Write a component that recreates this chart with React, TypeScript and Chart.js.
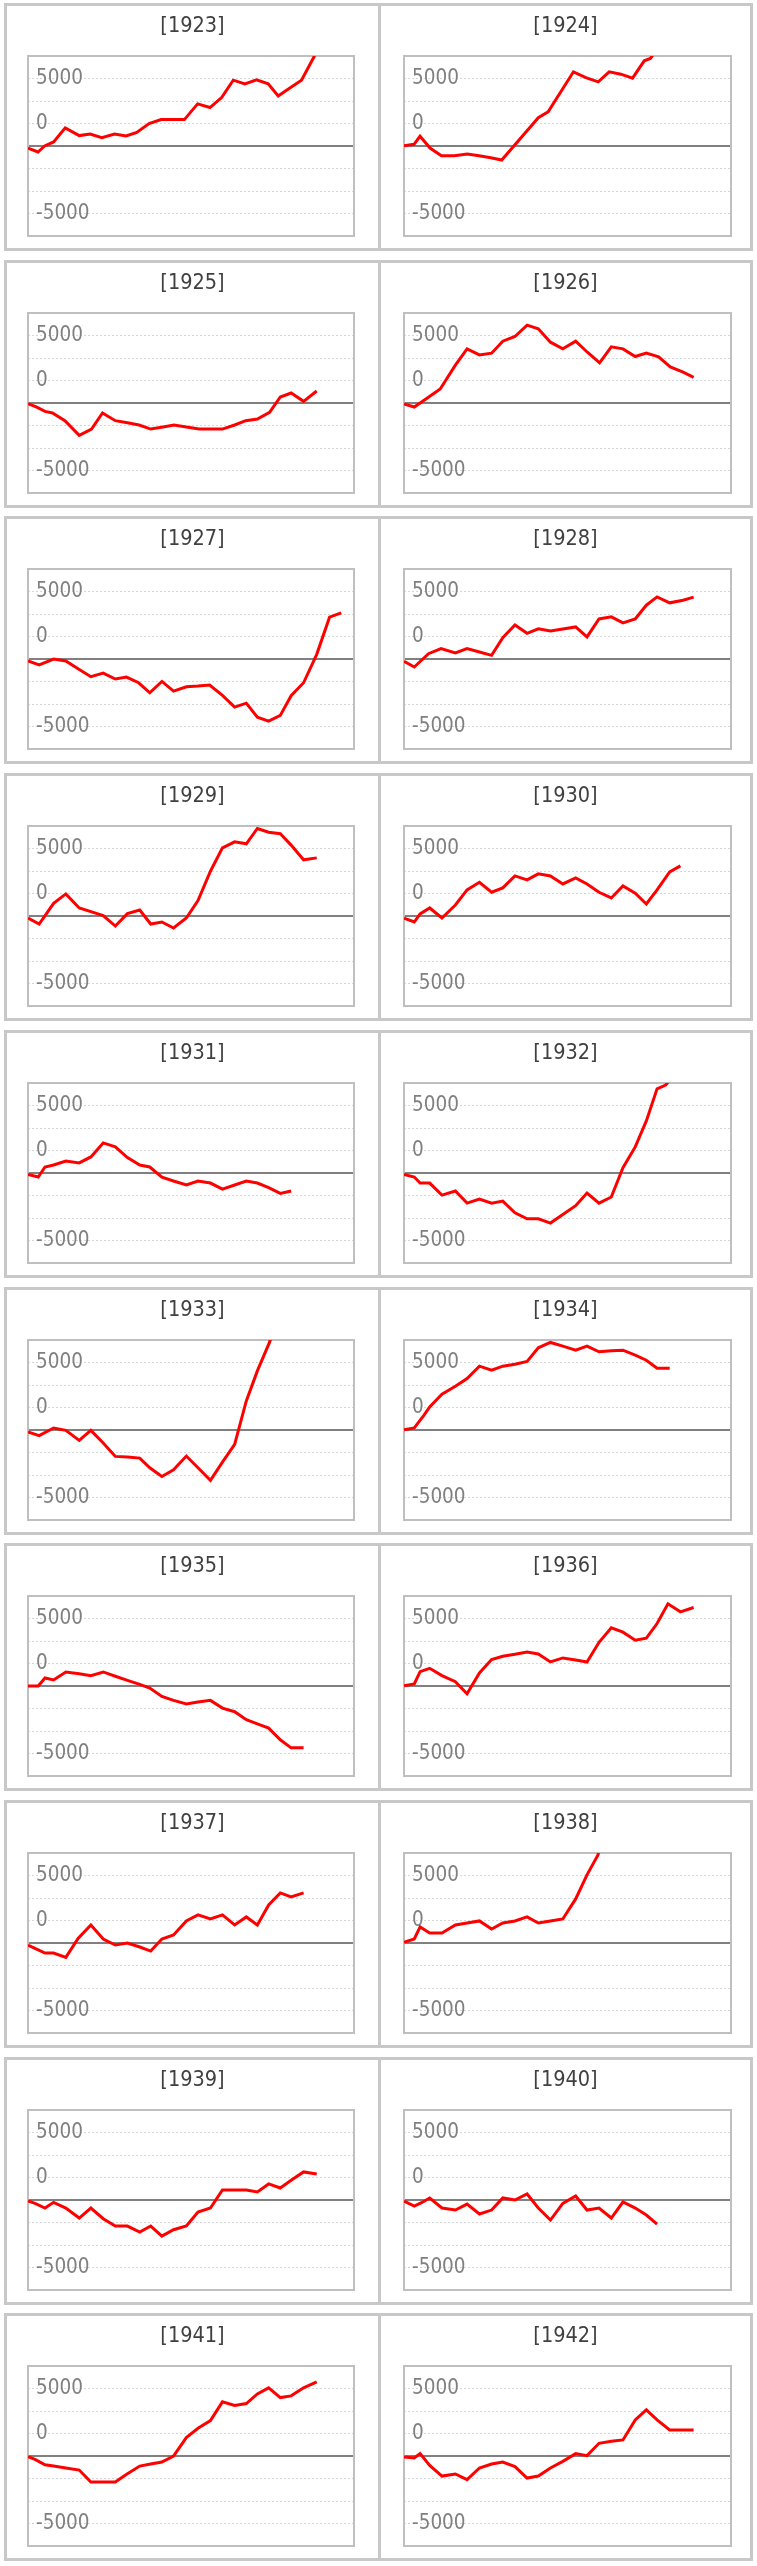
import { useEffect, useRef } from "react"
import { Chart, registerables } from "chart.js"

Chart.register(...registerables)

type Pt = [number, number]

// y axis: ticks every 5000/3, only three of them carry a label (as in the source chart)
const TICK_VALUES = [-20000 / 3, -5000, -10000 / 3, -5000 / 3, 0, 5000 / 3, 10000 / 3, 5000, 20000 / 3]
const TICK_LABELS = ["", "-5000", "", "", "", "0", "", "5000", ""]
const Y_MIN = -20000 / 3
const Y_MAX = 20000 / 3
const X_MAX = 28

const YEARS = [1923, 1924, 1925, 1926, 1927, 1928, 1929, 1930, 1931, 1932, 1933, 1934, 1935, 1936, 1937, 1938, 1939, 1940, 1941, 1942]

// [position in year, value]
const P1923: Pt[] = [[0, -150], [0.86, -445], [1.43, 0], [2.2, 300], [3.2, 1340], [4.4, 770], [5.34, 890], [6.34, 620], [7.43, 890], [8.43, 740], [9.34, 1010], [10.4, 1660], [11.43, 1955], [12.5, 1955], [13.43, 1955], [14.57, 3120], [15.63, 2850], [16.63, 3590], [17.63, 4875], [18.63, 4600], [19.63, 4900], [20.63, 4600], [21.49, 3710], [22.49, 4300], [23.49, 4875], [24.49, 6485], [25.49, 8100]]
const P1924: Pt[] = [[0, 25], [0.86, 125], [1.37, 720], [2.23, -150], [3.2, -720], [4.3, -720], [5.43, -595], [6.43, -720], [7.43, -865], [8.37, -1040], [11.5, 2100], [12.34, 2525], [14.51, 5495], [15.57, 5070], [16.63, 4750], [17.57, 5495], [18.57, 5320], [19.57, 5025], [20.57, 6310], [21.1, 6485], [21.6, 7100]]
const P1925: Pt[] = [[0, -50], [0.75, -300], [1.46, -620], [2.1, -740], [3.17, -1310], [4.4, -2400], [5.46, -1930], [6.4, -740], [7.5, -1310], [8.54, -1460], [9.54, -1630], [10.54, -1930], [11.6, -1780], [12.54, -1630], [13.6, -1780], [14.7, -1930], [15.75, -1930], [16.7, -1930], [17.75, -1630], [18.7, -1310], [19.7, -1190], [20.75, -690], [21.67, 445], [22.6, 740], [23.67, 125], [24.8, 890]]
const P1926: Pt[] = [[0, -75], [0.88, -300], [2.0, 370], [3.1, 1040], [4.4, 2800], [5.4, 4010], [6.46, 3560], [7.5, 3690], [8.46, 4580], [9.5, 4925], [10.54, 5770], [11.5, 5495], [12.54, 4505], [13.6, 4010], [14.7, 4580], [15.7, 3760], [16.75, 2970], [17.75, 4160], [18.75, 4010], [19.8, 3440], [20.75, 3690], [21.8, 3415], [22.8, 2670], [23.9, 2280], [24.8, 1905]]
const P1927: Pt[] = [[0, -150], [0.96, -445], [2.2, 0], [3.25, -150], [4.3, -720], [5.4, -1310], [6.46, -1040], [7.5, -1485], [8.46, -1335], [9.5, -1760], [10.46, -2500], [11.5, -1660], [12.5, -2375], [13.6, -2055], [14.6, -2005], [15.6, -1930], [16.7, -2700], [17.75, -3565], [18.75, -3270], [19.7, -4305], [20.67, -4600], [21.67, -4180], [22.6, -2720], [23.67, -1760], [24.8, 345], [25.9, 3095], [26.9, 3415]]
const P1928: Pt[] = [[0, -175], [0.88, -595], [2.1, 395], [3.17, 770], [4.4, 445], [5.4, 770], [6.46, 520], [7.5, 270], [8.46, 1585], [9.5, 2525], [10.54, 1905], [11.5, 2230], [12.54, 2080], [13.6, 2230], [14.7, 2375], [15.67, 1635], [16.7, 2970], [17.75, 3120], [18.75, 2675], [19.8, 2970], [20.75, 3985], [21.67, 4600], [22.75, 4160], [23.9, 4355], [24.8, 4580]]
const P1929: Pt[] = [[0, -150], [0.96, -595], [2.2, 940], [3.25, 1635], [4.4, 595], [5.4, 320], [6.46, 25], [7.5, -745], [8.54, 175], [9.6, 445], [10.54, -595], [11.5, -445], [12.5, -890], [13.6, -150], [14.6, 1140], [15.67, 3315], [16.7, 5050], [17.75, 5495], [18.75, 5345], [19.7, 6485], [20.67, 6210], [21.67, 6090], [22.6, 5250], [23.67, 4160], [24.8, 4305]]
const P1930: Pt[] = [[0, -150], [0.88, -445], [1.38, 150], [2.2, 595], [3.25, -150], [4.4, 815], [5.4, 1930], [6.46, 2500], [7.5, 1760], [8.46, 2080], [9.5, 2970], [10.54, 2675], [11.5, 3120], [12.54, 2970], [13.6, 2375], [14.7, 2820], [15.67, 2375], [16.7, 1760], [17.75, 1335], [18.75, 2230], [19.8, 1685], [20.75, 890], [21.67, 1930], [22.75, 3265], [23.67, 3710]]
const P1931: Pt[] = [[0, -100], [0.88, -300], [1.46, 445], [2.2, 595], [3.25, 890], [4.4, 745], [5.4, 1190], [6.46, 2230], [7.5, 1930], [8.54, 1140], [9.6, 595], [10.46, 445], [11.5, -300], [12.5, -595], [13.6, -890], [14.6, -595], [15.67, -745], [16.7, -1190], [17.75, -890], [18.75, -595], [19.7, -745], [20.67, -1090], [21.67, -1510], [22.6, -1335]]
const P1932: Pt[] = [[0, -100], [0.88, -300], [1.38, -745], [2.2, -745], [3.25, -1635], [4.4, -1335], [5.4, -2230], [6.46, -1930], [7.5, -2230], [8.46, -2080], [9.5, -2945], [10.54, -3390], [11.5, -3390], [12.54, -3710], [13.6, -3070], [14.7, -2425], [15.67, -1485], [16.7, -2230], [17.75, -1780], [18.75, 395], [19.8, 1930], [20.75, 3860], [21.67, 6235], [22.4, 6510], [22.9, 7000]]
const P1933: Pt[] = [[0, -150], [0.96, -420], [2.2, 150], [3.25, -25], [4.4, -770], [5.4, -25], [6.46, -965], [7.5, -1955], [8.54, -2005], [9.6, -2080], [10.46, -2800], [11.5, -3440], [12.5, -2945], [13.6, -1930], [14.6, -2800], [15.67, -3735], [16.7, -2375], [17.75, -1065], [18.75, 2150], [19.7, 4380], [20.75, 6510], [21.3, 8000]]
const P1934: Pt[] = [[0, 25], [0.88, 150], [1.7, 1090], [2.2, 1710], [3.25, 2650], [4.4, 3240], [5.4, 3810], [6.46, 4730], [7.5, 4430], [8.46, 4730], [9.5, 4875], [10.54, 5075], [11.5, 6090], [12.54, 6485], [13.6, 6210], [14.7, 5915], [15.67, 6210], [16.7, 5790], [17.75, 5865], [18.75, 5915], [19.8, 5545], [20.75, 5170], [21.67, 4580], [22.75, 4580]]
const P1935: Pt[] = [[0, 0], [0.88, 0], [1.46, 595], [2.2, 445], [3.25, 1040], [4.4, 915], [5.4, 770], [6.46, 1040], [7.5, 720], [8.54, 420], [9.6, 125], [10.46, -150], [11.5, -770], [12.5, -1065], [13.6, -1335], [14.6, -1190], [15.67, -1065], [16.7, -1635], [17.75, -1905], [18.75, -2500], [19.7, -2800], [20.67, -3120], [21.67, -3985], [22.6, -4580], [23.67, -4580]]
const P1936: Pt[] = [[0, 25], [0.88, 150], [1.38, 1065], [2.2, 1310], [3.25, 770], [4.4, 320], [5.4, -570], [6.46, 965], [7.5, 1955], [8.46, 2200], [9.5, 2350], [10.54, 2525], [11.5, 2375], [12.54, 1780], [13.6, 2080], [14.7, 1930], [15.67, 1780], [16.7, 3240], [17.75, 4305], [18.75, 3985], [19.8, 3390], [20.75, 3540], [21.67, 4625], [22.6, 6090], [23.67, 5495], [24.8, 5815]]
const P1937: Pt[] = [[0, -150], [0.6, -395], [1.46, -745], [2.2, -745], [3.25, -1065], [4.3, 345], [5.4, 1335], [6.46, 295], [7.5, -150], [8.54, 0], [9.6, -295], [10.54, -595], [11.5, 295], [12.5, 595], [13.6, 1635], [14.6, 2080], [15.67, 1780], [16.7, 2080], [17.75, 1335], [18.75, 1930], [19.7, 1335], [20.67, 2820], [21.67, 3710], [22.6, 3415], [23.67, 3710]]
const P1938: Pt[] = [[0, 50], [0.88, 295], [1.38, 1190], [2.2, 745], [3.25, 745], [4.4, 1335], [5.4, 1485], [6.46, 1635], [7.5, 1040], [8.46, 1485], [9.5, 1635], [10.54, 1930], [11.5, 1485], [12.54, 1635], [13.6, 1780], [14.7, 3265], [15.67, 5050], [16.6, 6510], [17.1, 8000]]
const P1939: Pt[] = [[0, -75], [0.6, -250], [1.46, -595], [2.2, -175], [3.25, -595], [4.4, -1335], [5.4, -595], [6.46, -1385], [7.5, -1930], [8.54, -1930], [9.6, -2375], [10.54, -1930], [11.5, -2675], [12.5, -2200], [13.6, -1930], [14.6, -890], [15.67, -595], [16.7, 745], [17.75, 745], [18.75, 745], [19.7, 595], [20.67, 1190], [21.67, 890], [22.6, 1460], [23.67, 2080], [24.8, 1930]]
const P1940: Pt[] = [[0, -75], [0.88, -445], [1.5, -200], [2.2, 150], [3.25, -595], [4.4, -745], [5.4, -300], [6.46, -1040], [7.5, -745], [8.46, 150], [9.5, 0], [10.54, 445], [11.5, -595], [12.54, -1485], [13.6, -250], [14.7, 300], [15.67, -745], [16.7, -595], [17.75, -1335], [18.75, -150], [19.8, -595], [20.75, -1115], [21.67, -1780]]
const P1941: Pt[] = [[0, -50], [0.6, -250], [1.46, -645], [2.2, -745], [3.25, -890], [4.4, -1040], [5.4, -1930], [6.46, -1930], [7.5, -1930], [8.54, -1310], [9.6, -745], [10.54, -595], [11.5, -445], [12.5, 0], [13.6, 1360], [14.6, 2055], [15.67, 2625], [16.7, 4010], [17.75, 3740], [18.75, 3885], [19.7, 4600], [20.67, 5050], [21.67, 4330], [22.6, 4455], [23.67, 5050], [24.8, 5495]]
const P1942: Pt[] = [[0, -75], [0.88, -150], [1.38, 175], [2.2, -695], [3.25, -1485], [4.4, -1335], [5.4, -1755], [6.46, -890], [7.5, -595], [8.46, -445], [9.5, -790], [10.54, -1635], [11.5, -1485], [12.54, -890], [13.6, -395], [14.7, 175], [15.67, 25], [16.7, 940], [17.75, 1090], [18.75, 1190], [19.8, 2675], [20.75, 3415], [21.67, 2675], [22.75, 1930], [23.9, 1930], [24.8, 1930]]

const SERIES: Pt[][] = [P1923, P1924, P1925, P1926, P1927, P1928, P1929, P1930, P1931, P1932, P1933, P1934, P1935, P1936, P1937, P1938, P1939, P1940, P1941, P1942]

const ROW_STEP = 256.7
const PANEL_H = 248
const FONT = '"DejaVu Sans Condensed", "DejaVu Sans", sans-serif'

const panelFrame = {
  id: "panelFrame",
  beforeDatasetsDraw(chart: Chart) {
    const { ctx, chartArea: a } = chart
    ctx.save()
    ctx.strokeStyle = "#bfbfbf"
    ctx.lineWidth = 2
    ctx.strokeRect(a.left, a.top, a.right - a.left, a.bottom - a.top)
    ctx.restore()
  },
  afterDraw(chart: Chart, _args: unknown, opts: { title: string }) {
    const { ctx } = chart
    ctx.save()
    ctx.font = `21.5px ${FONT}`
    ctx.fillStyle = "#404040"
    ctx.textAlign = "center"
    ctx.textBaseline = "middle"
    ctx.fillText(opts.title, chart.width / 2, 20.5)
    ctx.restore()
  },
}

function YearChart({ year, points, right }: { year: number; points: Pt[]; right: boolean }) {
  const chartRef = useRef<HTMLCanvasElement>(null)
  const chartInstance = useRef<Chart | null>(null)
  const w = right ? 369 : 371
  const h = PANEL_H - 6

  useEffect(() => {
    if (!chartRef.current) return
    if (chartInstance.current) chartInstance.current.destroy()

    chartInstance.current = new Chart(chartRef.current, {
      type: "line",
      data: {
        datasets: [
          {
            data: points.map(([x, y]) => ({ x, y })),
            borderColor: "#ff0000",
            borderWidth: 3,
            pointRadius: 0,
            tension: 0,
          },
        ],
      },
      options: {
        responsive: false,
        animation: false,
        events: [],
        layout: {
          padding: right ? { left: 23, right: 19, top: 50, bottom: 12 } : { left: 21, right: 24, top: 50, bottom: 12 },
        },
        scales: {
          x: { type: "linear", min: 0, max: X_MAX, display: false },
          y: {
            min: Y_MIN,
            max: Y_MAX,
            afterBuildTicks: (scale: any) => {
              scale.ticks = TICK_VALUES.map((value) => ({ value }))
            },
            afterFit: (scale: any) => {
              // mirrored labels sit inside the plot, so the axis takes no room
              scale.width = 0
              scale.paddingTop = 0
              scale.paddingBottom = 0
            },
            ticks: {
              mirror: true,
              padding: 8,
              autoSkip: false,
              color: "#808080",
              font: { family: FONT, size: 20.5 },
              callback: (_v: any, i: number) => TICK_LABELS[i] ?? "",
            },
            grid: {
              drawTicks: false,
              color: (c: any) => {
                const v = c.tick ? c.tick.value : 0
                if (Math.abs(v) > 6000) return "rgba(0,0,0,0)"
                return v === 0 ? "#808080" : "#d6d6d6"
              },
              lineWidth: (c: any) => (c.tick && c.tick.value === 0 ? 2 : 1),
            },
            border: {
              display: false,
              dash: (c: any) => (c.tick && c.tick.value !== 0 ? [2, 2] : []),
            },
          },
        },
        plugins: {
          legend: { display: false },
          tooltip: { enabled: false },
          panelFrame: { title: `[${year}]` },
        } as any,
      },
      plugins: [panelFrame],
    })

    return () => {
      if (chartInstance.current) {
        chartInstance.current.destroy()
        chartInstance.current = null
      }
    }
  }, [year, points, right])

  return <canvas ref={chartRef} width={w} height={h} style={{ display: "block", width: w, height: h }} />
}

export default function App() {
  return (
    <div style={{ position: "absolute", left: 0, top: 0, width: 757, height: 2566, background: "#fff" }}>
      {YEARS.map((year, i) => {
        const right = i % 2 === 1
        const row = Math.floor(i / 2)
        return (
          <div
            key={year}
            style={{
              position: "absolute",
              boxSizing: "border-box",
              left: right ? 378 : 4,
              top: Math.round(3 + row * ROW_STEP),
              width: right ? 375 : 377,
              height: PANEL_H,
              border: "3px solid #c8c8c8",
              background: "#fff",
            }}
          >
            <YearChart year={year} points={SERIES[i]} right={right} />
          </div>
        )
      })}
    </div>
  )
}
